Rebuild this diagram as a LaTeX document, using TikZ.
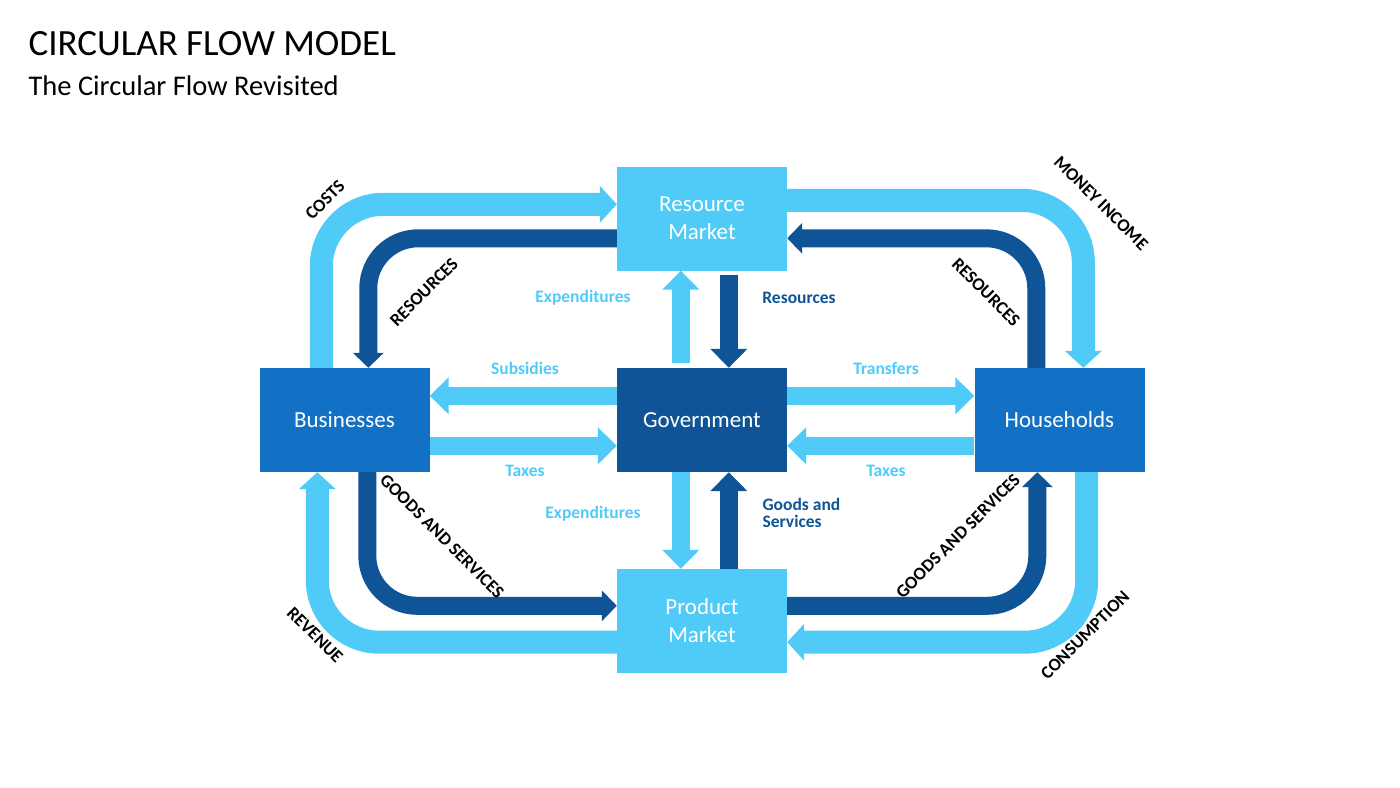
\documentclass[tikz,border=0pt]{standalone}
\usepackage{fontspec}
\setmainfont{Carlito}
\usetikzlibrary{arrows.meta,calc}
\definecolor{lb}{RGB}{80,203,248}
\definecolor{mb}{RGB}{18,113,196}
\definecolor{db}{RGB}{15,84,150}
\begin{document}
\begin{tikzpicture}[x=1pt,y=-1pt,
  box/.style={minimum width=170pt,minimum height=104pt,inner sep=0pt,font=\fontsize{23}{28}\selectfont,text=white,align=center},
  lo/.style={draw=lb,line width=23pt,rounded corners=62pt,-{Triangle[width=36pt,length=17pt]}},
  din/.style={draw=db,line width=18pt,rounded corners=50pt,-{Triangle[width=30pt,length=15pt]}},
  lc/.style={draw=lb,line width=18pt,-{Triangle[width=36pt,length=19pt]}},
  dc/.style={draw=db,line width=18pt,-{Triangle[width=36pt,length=19pt]}},
  rl/.style={font=\bfseries\fontsize{18}{18}\selectfont,text=black,inner sep=1pt},
  ll/.style={font=\bfseries\fontsize{17.5}{17.5}\selectfont,text=lb},
  dl/.style={font=\bfseries\fontsize{17.5}{17}\selectfont,text=db,align=left}]
\useasboundingbox (0,0) rectangle (1400,787);
\node[anchor=base west,font=\fontsize{37}{39}\selectfont] (t) at (25,55) {CIRCULAR FLOW MODEL};
\node[anchor=base west,font=\fontsize{28.5}{30}\selectfont] (s) at (25,95) {The Circular Flow Revisited};
\node[box,fill=lb] (rm) at (702,218.5) {Resource\\Market};
\node[box,fill=mb] (bus) at (344.5,420) {Businesses};
\node[box,fill=db] (gov) at (702,420) {Government};
\node[box,fill=mb] (hh) at (1059.5,420) {Households};
\node[box,fill=lb] (pm) at (702,621) {Product\\Market};
% outer loops
\draw[lo] ($(bus.north west)+(62,0)$) |- ($(rm.north west)+(0,38)$);
\draw[lo] ($(rm.north east)+(0,34)$) -| ($(hh.north west)+(109,0)$);
\draw[lo] ($(pm.south west)+(0,-31)$) -| ($(bus.south west)+(58,0)$);
\draw[lo] ($(hh.south east)+(-58,0)$) |- ($(pm.south east)+(0,-31)$);
% inner loops
\draw[din] ($(rm.north west)+(0,72)$) -| ($(bus.north west)+(109,0)$);
\draw[din] ($(hh.north west)+(62,0)$) |- ($(rm.north east)+(0,72)$);
\draw[din] ($(bus.south west)+(108,0)$) |- ($(pm.north west)+(0,37)$);
\draw[din] ($(pm.north east)+(0,37)$) -| ($(hh.south west)+(63,0)$);
% center arrows
\draw[lc] ($(gov.north west)+(64,-5)$) -- ($(rm.south west)+(64,0)$);
\draw[dc] ($(rm.south west)+(112,4)$) -- ($(gov.north west)+(112,0)$);
\draw[lc] ($(gov.north west)+(0,28)$) -- ($(bus.north east)+(0,28)$);
\draw[lc] ($(bus.north east)+(0,78)$) -- ($(gov.north west)+(0,78)$);
\draw[lc] ($(gov.north east)+(0,28)$) -- ($(hh.north west)+(0,28)$);
\draw[lc] ($(hh.north west)+(0,78)$) -- ($(gov.north east)+(0,78)$);
\draw[lc] ($(gov.south west)+(64,0)$) -- ($(pm.north west)+(64,0)$);
\draw[dc] ($(pm.north west)+(112,0)$) -- ($(gov.south west)+(112,0)$);
% center labels
\node[ll] (l1) at (583,298) {Expenditures};
\node[dl] (l2) at (799,298) {Resources};
\node[ll] (l3) at (525,368) {Subsidies};
\node[ll] (l4) at (886,368) {Transfers};
\node[ll] (l5) at (525,471) {Taxes};
\node[ll] (l6) at (886,471) {Taxes};
\node[ll] (l7) at (593,514) {Expenditures};
\node[dl,anchor=west] (l8) at (759,513) {Goods and\\Services};
% rotated labels
\node[rl,rotate=45] (r1) at (325,200) {COSTS};
\node[rl,rotate=45] (r2) at (424,292) {RESOURCES};
\node[rl,rotate=-45] (r3) at (442,536) {GOODS AND SERVICES};
\node[rl,rotate=-45] (r4) at (315,635) {REVENUE};
\node[rl,rotate=-45] (r5) at (1101,203) {MONEY INCOME};
\node[rl,rotate=-45] (r6) at (986,292) {RESOURCES};
\node[rl,rotate=45] (r7) at (958,536) {GOODS AND SERVICES};
\node[rl,rotate=45] (r8) at (1085,635) {CONSUMPTION};
\end{tikzpicture}
\end{document}
